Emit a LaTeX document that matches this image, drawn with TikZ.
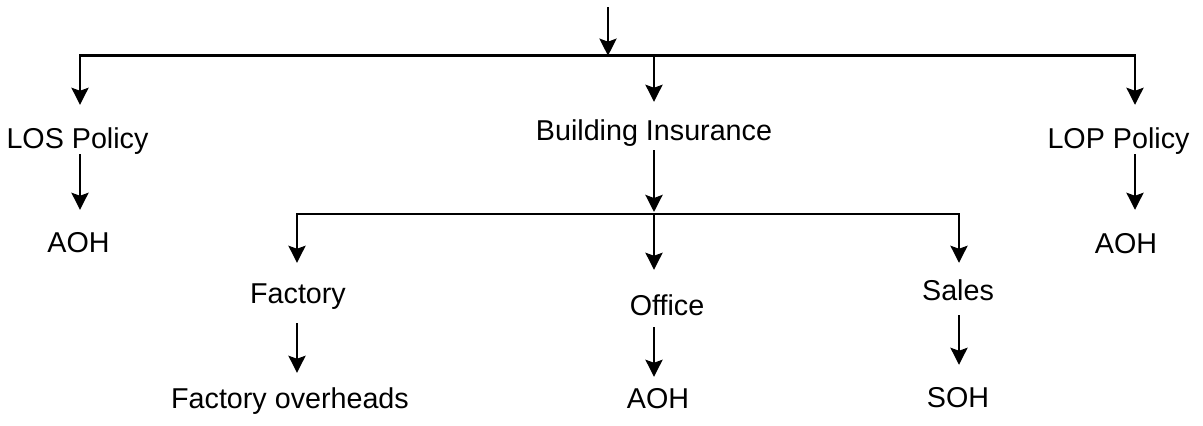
\documentclass[tikz,border=0pt]{standalone}
\usepackage{fontspec}
\setmainfont{Liberation Sans}
\usetikzlibrary{arrows.meta}
\tikzset{
  lbl/.style={font=\fontsize{28.7}{34}\selectfont, inner sep=0pt, text height=21pt, text depth=6pt, anchor=base},
  bar/.style={line width=2.8pt, line cap=rect},
  arr/.style={line width=2.8pt, -{Stealth[length=17pt,width=17pt,inset=3pt]}},
}
\begin{document}
\begin{tikzpicture}[x=1pt,y=-1pt]
\useasboundingbox (0,0) rectangle (1203,426);
\coordinate (top) at (608,7);
\coordinate (hub) at (608,55.7);
\coordinate (hubb) at (654,214);
\coordinate (cl) at (80,0);
\coordinate (cm) at (654,0);
\coordinate (cr) at (1135,0);
\coordinate (cf) at (297,0);
\coordinate (cs) at (959,0);
\node[lbl] (los) at (77.5,148) {LOS Policy};
\node[lbl] (aohl) at (78.5,252) {AOH};
\node[lbl] (bi) at (654,140) {Building Insurance};
\node[lbl] (lop) at (1118.5,148) {LOP Policy};
\node[lbl] (aohr) at (1126,253) {AOH};
\node[lbl] (fac) at (298,303) {Factory};
\node[lbl] (fo) at (290,408) {Factory overheads};
\node[lbl] (off) at (667,315) {Office};
\node[lbl] (aohm) at (658,408) {AOH};
\node[lbl] (sal) at (958,300) {Sales};
\node[lbl] (soh) at (958,407) {SOH};
\draw[arr] (top) -- (hub);
\draw[bar] (cl |- hub) -- (cr |- hub);
\draw[arr, shorten >=22pt] (cl |- hub) -- (los.north -| cl);
\draw[arr, shorten >=17pt] (cm |- hub) -- (bi.north -| cm);
\draw[arr, shorten >=22pt] (cr |- hub) -- (lop.north -| cr);
\draw[arr, shorten >=21pt] (los.south -| cl) -- (aohl.north -| cl);
\draw[arr, shorten >=22pt] (lop.south -| cr) -- (aohr.north -| cr);
\draw[arr, shorten <=4pt, shorten >=2pt] (bi.south -| cm) -- (hubb);
\draw[bar] (cf |- hubb) -- (cs |- hubb);
\draw[arr, shorten >=19pt] (cf |- hubb) -- (fac.north -| cf);
\draw[arr, shorten >=24pt] (hubb) -- (off.north -| cm);
\draw[arr, shorten >=16pt] (cs |- hubb) -- (sal.north -| cs);
\draw[arr, shorten <=14pt, shorten >=14pt] (fac.south -| cf) -- (fo.north -| cf);
\draw[arr, shorten <=6pt, shorten >=10pt] (off.south -| cm) -- (aohm.north -| cm);
\draw[arr, shorten <=9pt, shorten >=21pt] (sal.south -| cs) -- (soh.north -| cs);
\end{tikzpicture}
\end{document}
